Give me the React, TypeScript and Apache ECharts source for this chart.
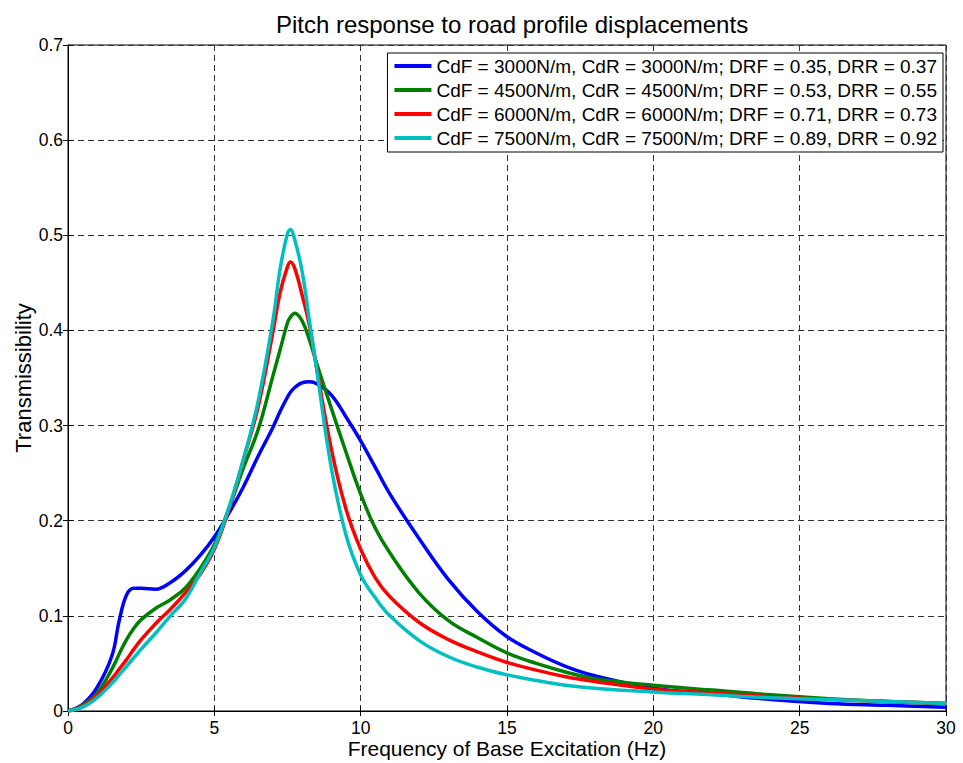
import React, { useEffect, useRef } from "react";
import * as echarts from "echarts";

const freqs = [0, 0.5, 1, 1.5, 1.75, 2, 2.25, 2.5, 3, 3.5, 4, 4.5, 5, 5.5, 6, 6.5, 7, 7.25, 7.5, 7.6, 7.75, 8, 8.25, 8.5, 9, 9.5, 10, 10.5, 11, 12, 13, 14, 15, 16, 17, 18, 20, 22, 24, 26, 28, 30];

const blue = [0, 0.007, 0.025, 0.058, 0.095, 0.122, 0.129, 0.129, 0.128, 0.135, 0.147, 0.163, 0.183, 0.208, 0.236, 0.268, 0.298, 0.315, 0.33, 0.335, 0.34, 0.345, 0.346, 0.344, 0.332, 0.309, 0.284, 0.256, 0.228, 0.181, 0.138, 0.104, 0.078, 0.061, 0.047, 0.037, 0.024, 0.018, 0.012, 0.008, 0.006, 0.004];
const green = [0, 0.006, 0.019, 0.044, 0.06, 0.075, 0.087, 0.096, 0.108, 0.117, 0.129, 0.149, 0.175, 0.213, 0.256, 0.296, 0.352, 0.38, 0.408, 0.414, 0.418, 0.41, 0.39, 0.365, 0.318, 0.272, 0.228, 0.192, 0.166, 0.124, 0.095, 0.077, 0.061, 0.05, 0.041, 0.034, 0.027, 0.022, 0.017, 0.013, 0.01, 0.008];
const red = [0, 0.005, 0.017, 0.034, 0.044, 0.054, 0.065, 0.075, 0.092, 0.107, 0.124, 0.143, 0.17, 0.212, 0.265, 0.32, 0.398, 0.44, 0.467, 0.472, 0.465, 0.437, 0.405, 0.36, 0.275, 0.212, 0.17, 0.14, 0.12, 0.093, 0.075, 0.062, 0.051, 0.043, 0.036, 0.031, 0.023, 0.019, 0.015, 0.012, 0.01, 0.008];
const cyan = [0, 0.004, 0.014, 0.029, 0.038, 0.047, 0.056, 0.065, 0.082, 0.1, 0.117, 0.144, 0.172, 0.214, 0.265, 0.326, 0.41, 0.465, 0.502, 0.506, 0.495, 0.462, 0.41, 0.358, 0.255, 0.185, 0.143, 0.119, 0.1, 0.074, 0.057, 0.046, 0.038, 0.032, 0.027, 0.024, 0.02, 0.017, 0.014, 0.012, 0.01, 0.008];

const seriesNames = [
  "CdF = 3000N/m, CdR = 3000N/m; DRF = 0.35, DRR = 0.37",
  "CdF = 4500N/m, CdR = 4500N/m; DRF = 0.53, DRR = 0.55",
  "CdF = 6000N/m, CdR = 6000N/m; DRF = 0.71, DRR = 0.73",
  "CdF = 7500N/m, CdR = 7500N/m; DRF = 0.89, DRR = 0.92",
];
const seriesValues = [blue, green, red, cyan];
const seriesColors = ["#0000ff", "#008000", "#ff0000", "#00bfbf"];

const FONT = "Liberation Sans, Arial, sans-serif";

export default function App() {
  const ref = useRef<HTMLDivElement>(null);
  useEffect(() => {
    if (!ref.current) return;
    const chart = echarts.init(ref.current, undefined, { renderer: "svg" });
    const gridLine = { show: true, lineStyle: { color: "#333", type: [6, 4], width: 1 } };
    chart.setOption({
      animation: false,
      backgroundColor: "#fff",
      title: {
        text: "Pitch response to road profile displacements",
        left: 507,
        textAlign: "center",
        top: 7,
        textStyle: { fontFamily: FONT, fontSize: 24, fontWeight: "normal", color: "#000" },
      },
      legend: {
        orient: "vertical",
        right: 20,
        top: 53,
        width: 580,
        padding: [3, 6, 4, 7],
        backgroundColor: "#fff",
        borderColor: "#000",
        borderWidth: 1,
        borderRadius: 0,
        itemGap: 4,
        itemWidth: 37,
        itemHeight: 4,
        icon: "rect",
        textStyle: { fontFamily: FONT, fontSize: 19, color: "#000", lineHeight: 20, padding: [0, 0, 0, 0] },
        data: seriesNames,
      },
      grid: {
        left: 68,
        right: 17,
        top: 45,
        bottom: 52,
        containLabel: false,
        outerBoundsMode: "none",
        show: true,
        borderColor: "#000",
        borderWidth: 1,
      },
      xAxis: [
        {
          type: "value",
          min: 0,
          max: 30,
          interval: 5,
          name: "Frequency of Base Excitation (Hz)",
          nameLocation: "middle",
          nameGap: 27,
          nameMoveOverlap: false,
          nameTextStyle: { fontFamily: FONT, fontSize: 21, lineHeight: 21, color: "#000" },
          axisLine: { show: true, onZero: false, lineStyle: { color: "#000", width: 1 } },
          axisTick: { show: true, inside: true, length: 5, lineStyle: { color: "#000" } },
          axisLabel: { fontFamily: FONT, fontSize: 17.5, lineHeight: 18, color: "#000", margin: 8 },
          splitLine: gridLine,
        },
        {
          type: "value",
          position: "top",
          min: 0,
          max: 30,
          interval: 5,
          axisLine: { show: true, lineStyle: { color: "#000", width: 1 } },
          axisTick: { show: true, inside: true, length: 5, lineStyle: { color: "#000" } },
          axisLabel: { show: false },
          splitLine: { show: false },
        },
      ],
      yAxis: [
        {
          type: "value",
          min: 0,
          max: 0.7,
          interval: 0.1,
          name: "Transmissibility",
          nameLocation: "middle",
          nameGap: 34,
          nameMoveOverlap: false,
          nameTextStyle: { fontFamily: FONT, fontSize: 22, color: "#000" },
          axisLine: { show: true, lineStyle: { color: "#000", width: 1 } },
          axisTick: { show: true, inside: true, length: 5, lineStyle: { color: "#000" } },
          axisLabel: {
            fontFamily: FONT,
            fontSize: 17.5,
            color: "#000",
            margin: 5,
            formatter: (v: number) => (Math.abs(v) < 1e-9 ? "0" : String(Math.round(v * 10) / 10)),
          },
          splitLine: gridLine,
        },
        {
          type: "value",
          position: "right",
          min: 0,
          max: 0.7,
          interval: 0.1,
          axisLine: { show: true, lineStyle: { color: "#000", width: 1 } },
          axisTick: { show: true, inside: true, length: 5, lineStyle: { color: "#000" } },
          axisLabel: { show: false },
          splitLine: { show: false },
        },
      ],
      series: seriesNames.map((name, i) => ({
        name,
        type: "line",
        xAxisIndex: 0,
        yAxisIndex: 0,
        data: freqs.map((f, j) => [f, seriesValues[i][j]]),
        smooth: 0.4,
        showSymbol: false,
        symbol: "none",
        lineStyle: { color: seriesColors[i], width: 3.5 },
        itemStyle: { color: seriesColors[i] },
        z: 2 + i,
      })),
    });
    return () => chart.dispose();
  }, []);
  return <div ref={ref} style={{ width: 963, height: 763, position: "absolute", left: 0, top: 0 }} />;
}
